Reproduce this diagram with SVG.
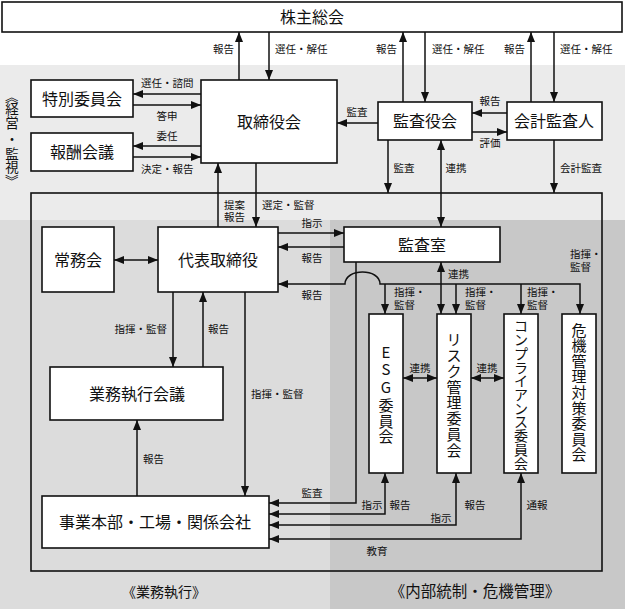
<svg xmlns="http://www.w3.org/2000/svg" width="625" height="609" viewBox="0 0 625 609">
<style>
text{font-family:"Noto Sans CJK JP","Noto Sans CJK SC",sans-serif;fill:#111}
.n{font-size:16px;text-anchor:middle}
.v{font-size:15px;text-anchor:middle}
.l{font-size:10.5px}
.c{text-anchor:middle}
.e{text-anchor:end}
.box{fill:#fff;stroke:#111;stroke-width:1.6}
.ln{fill:none;stroke:#111;stroke-width:1.5}
</style>
<defs>
<marker id="a" viewBox="0 0 10 8" refX="10" refY="4" markerWidth="10" markerHeight="8" markerUnits="userSpaceOnUse" orient="auto-start-reverse"><path d="M0,0 L10,4 L0,8 z" fill="#111"/></marker>
</defs>
<g id="background">
<rect x="0" y="0" width="625" height="609" fill="#fff"/>
<rect x="0" y="65" width="625" height="155" fill="#ebebeb"/>
<rect x="0" y="220" width="330" height="389" fill="#dcdcdc"/>
<rect x="330" y="220" width="295" height="389" fill="#c8c8c8"/>
<rect x="31" y="193" width="571" height="378" fill="none" stroke="#111" stroke-width="1.6"/>
<text style="font-size:13.5px" x="6.9 5.25 5.25 5.25 5.25 5.25 6.9" y="90.25 114.1 127.6 144.1 158.6 171.6 174.25" rotate="90 0 0 0 0 0 90">《経営・監視》</text>
<text x="164" y="597" style="font-size:14px" class="c">《業務執行》</text>
<text x="475" y="597" style="font-size:15.5px" class="c">《内部統制・危機管理》</text>
</g>
<g id="connectors">
<path class="ln" marker-end="url(#a)" d="M239,80 V32"/>
<path class="ln" marker-end="url(#a)" d="M269,32 V80"/>
<path class="ln" marker-end="url(#a)" d="M403,102 V32"/>
<path class="ln" marker-end="url(#a)" d="M425,32 V102"/>
<path class="ln" marker-end="url(#a)" d="M531,102 V32"/>
<path class="ln" marker-end="url(#a)" d="M554,32 V102"/>
<path class="ln" marker-end="url(#a)" d="M201,94 H133"/>
<path class="ln" marker-end="url(#a)" d="M133,105 H201"/>
<path class="ln" marker-end="url(#a)" d="M201,146 H133"/>
<path class="ln" marker-end="url(#a)" d="M133,157 H201"/>
<path class="ln" marker-end="url(#a)" d="M378,123 H337"/>
<path class="ln" marker-end="url(#a)" d="M507,113 H472"/>
<path class="ln" marker-end="url(#a)" d="M472,132 H507"/>
<path class="ln" marker-end="url(#a)" d="M388,140 V193"/>
<path class="ln" marker-start="url(#a)" marker-end="url(#a)" d="M441,140 V227"/>
<path class="ln" marker-end="url(#a)" d="M554,140 V193"/>
<path class="ln" marker-end="url(#a)" d="M218,227 V163"/>
<path class="ln" marker-end="url(#a)" d="M256,163 V227"/>
<path class="ln" marker-start="url(#a)" marker-end="url(#a)" d="M114,260 H158"/>
<path class="ln" marker-end="url(#a)" d="M278,233 H344"/>
<path class="ln" marker-end="url(#a)" d="M344,247 H278"/>
<path class="ln" marker-start="url(#a)" marker-end="url(#a)" d="M580,314 V284 H380 C380,268 345,268 345,284 H278"/>
<path class="ln" marker-end="url(#a)" d="M385,284 V314"/>
<path class="ln" marker-end="url(#a)" d="M456,284 V314"/>
<path class="ln" marker-end="url(#a)" d="M521,284 V314"/>
<path class="ln" marker-start="url(#a)" marker-end="url(#a)" d="M441,262 V314"/>
<path class="ln" marker-start="url(#a)" marker-end="url(#a)" d="M403,378 H437"/>
<path class="ln" marker-start="url(#a)" marker-end="url(#a)" d="M471,378 H504"/>
<path class="ln" marker-end="url(#a)" d="M356,262 V503 H269"/>
<path class="ln" marker-start="url(#a)" marker-end="url(#a)" d="M385,473 V514 H269"/>
<path class="ln" marker-start="url(#a)" marker-end="url(#a)" d="M456,473 V525 H269"/>
<path class="ln" marker-start="url(#a)" marker-end="url(#a)" d="M521,473 V539 H269"/>
<path class="ln" marker-end="url(#a)" d="M173,292 V367"/>
<path class="ln" marker-end="url(#a)" d="M203,367 V292"/>
<path class="ln" marker-end="url(#a)" d="M245,292 V496"/>
<path class="ln" marker-end="url(#a)" d="M137,496 V420"/>
<g class="l">
<text x="234" y="53" class="e">報告</text>
<text x="275" y="53">選任・解任</text>
<text x="397" y="53" class="e">報告</text>
<text x="432" y="53">選任・解任</text>
<text x="525" y="53" class="e">報告</text>
<text x="560" y="53">選任・解任</text>
<text x="141" y="87">選任・諮問</text>
<text x="167" y="120" class="c">答申</text>
<text x="167" y="140" class="c">委任</text>
<text x="141" y="173">決定・報告</text>
<text x="357" y="116" class="c">監査</text>
<text x="490" y="105" class="c">報告</text>
<text x="490" y="147" class="c">評価</text>
<text x="404" y="172" class="c">監査</text>
<text x="456" y="172" class="c">連携</text>
<text x="560" y="172">会計監査</text>
<text x="224" y="208.5">提案</text>
<text x="224" y="221">報告</text>
<text x="262" y="209">選定・監督</text>
<text x="312" y="227" class="c">指示</text>
<text x="312" y="262" class="c">報告</text>
<text x="312" y="299" class="c">報告</text>
<text x="167" y="333" class="e">指揮・監督</text>
<text x="208" y="333">報告</text>
<text x="251" y="398">指揮・監督</text>
<text x="143" y="463">報告</text>
<text x="448" y="278">連携</text>
<text x="394" y="296">指揮・</text>
<text x="394" y="309">監督</text>
<text x="465" y="296">指揮・</text>
<text x="465" y="309">監督</text>
<text x="527" y="296">指揮・</text>
<text x="527" y="309">監督</text>
<text x="570" y="258">指揮・</text>
<text x="570" y="271">監督</text>
<text x="420" y="372" class="c">連携</text>
<text x="487" y="372" class="c">連携</text>
<text x="312" y="497" class="c">監査</text>
<text x="372" y="509" class="c">指示</text>
<text x="400" y="509" class="c">報告</text>
<text x="441" y="522" class="c">指示</text>
<text x="475" y="509" class="c">報告</text>
<text x="537" y="509" class="c">通報</text>
<text x="377" y="555" class="c">教育</text>
</g>
</g>
<g id="n-kabunushi"><rect class="box" x="2" y="2" width="620" height="30"/><text class="n" x="312" y="23">株主総会</text></g>
<g id="n-tokubetsu"><rect class="box" x="31" y="80" width="102" height="37"/><text class="n" x="82" y="105">特別委員会</text></g>
<g id="n-hoshu"><rect class="box" x="31" y="133" width="102" height="38"/><text class="n" x="82" y="158">報酬会議</text></g>
<g id="n-torishimariyakukai"><rect class="box" x="201" y="80" width="136" height="83"/><text class="n" x="269" y="128">取締役会</text></g>
<g id="n-kansayakukai"><rect class="box" x="378" y="102" width="94" height="38"/><text class="n" x="425" y="127">監査役会</text></g>
<g id="n-kaikei"><rect class="box" x="507" y="102" width="95" height="38"/><text class="n" x="554" y="127">会計監査人</text></g>
<g id="n-jomukai"><rect class="box" x="42" y="227" width="72" height="65"/><text class="n" x="78" y="266">常務会</text></g>
<g id="n-daihyo"><rect class="box" x="158" y="227" width="120" height="65"/><text class="n" x="218" y="266">代表取締役</text></g>
<g id="n-kansashitsu"><rect class="box" x="344" y="227" width="156" height="35"/><text class="n" x="422" y="251">監査室</text></g>
<g id="n-gyomu"><rect class="box" x="50" y="367" width="173" height="53"/><text class="n" x="137" y="400">業務執行会議</text></g>
<g id="n-jigyo"><rect class="box" x="42" y="496" width="227" height="52"/><text class="n" x="155" y="528">事業本部・工場・関係会社</text></g>
<g id="n-esg"><rect class="box" x="369" y="314" width="34" height="159"/><text class="v" x="386 386 386 386 386 386" y="357.5 375 392.5 410.5 426.5 441.5">ESG委員会</text></g>
<g id="n-risk"><rect class="box" x="437" y="314" width="34" height="159"/><text class="v" x="454 454 454 454 454 454 454 454" y="345 361 377 392.5 408 424 440 456">リスク管理委員会</text></g>
<g id="n-comp"><rect class="box" x="504" y="314" width="34" height="159"/><text class="v" style="font-size:14px" x="521 521 521 521 521 521 521 521 521 521 521" y="331 345 359 372.5 386 400 413.5 427 441 455 468.5">コンプライアンス委員会</text></g>
<g id="n-kiki"><rect class="box" x="562" y="314" width="34" height="159"/><text class="v" x="579 579 579 579 579 579 579 579 579" y="335.5 351 366.5 382 397.5 413.5 429 444.5 460">危機管理対策委員会</text></g>
</svg>
